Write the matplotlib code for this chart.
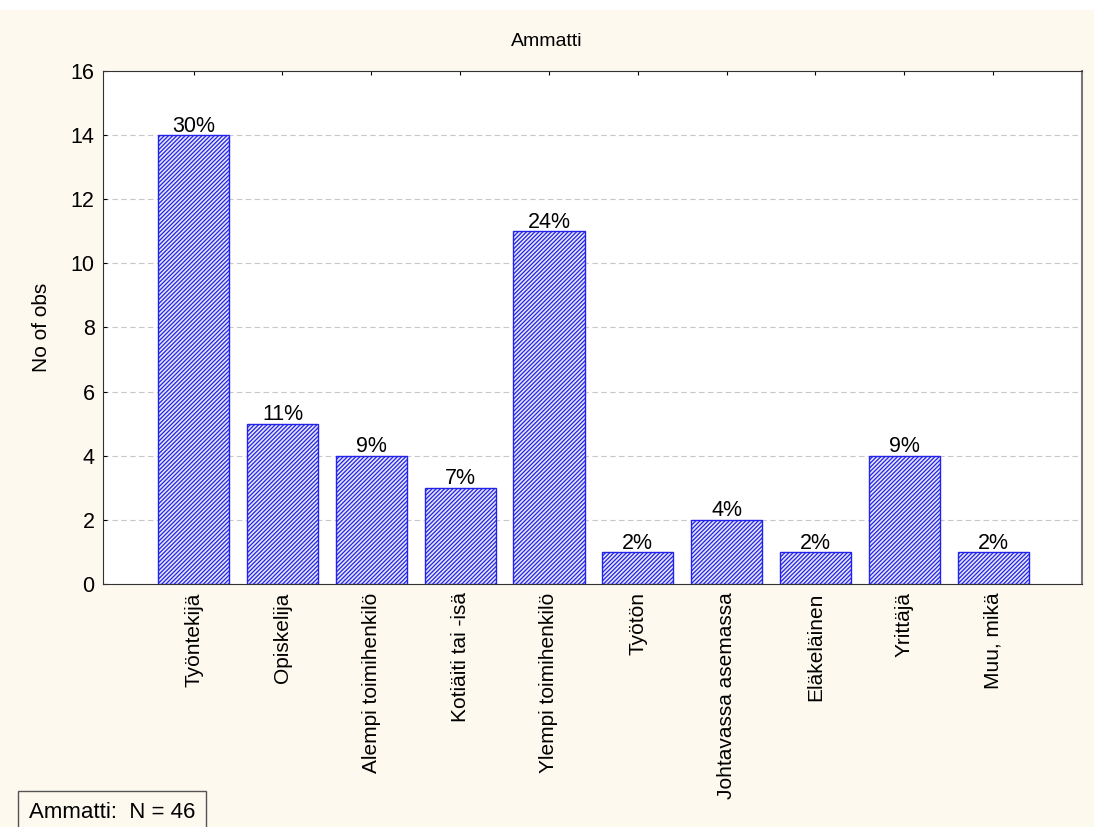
import matplotlib
matplotlib.use("Agg")
import matplotlib.pyplot as plt

plt.rcParams["font.family"] = ["Liberation Sans", "DejaVu Sans"]
plt.rcParams["hatch.color"] = "#3a3a60"
plt.rcParams["hatch.linewidth"] = 0.9

# Data
categories = ["Työntekijä", "Opiskelija", "Alempi toimihenkilö", "Kotiäiti tai -isä",
              "Ylempi toimihenkilö", "Työtön", "Johtavassa asemassa", "Eläkeläinen",
              "Yrittäjä", "Muu, mikä"]
counts = [14, 5, 4, 3, 11, 1, 2, 1, 4, 1]
percents = ["30%", "11%", "9%", "7%", "24%", "2%", "4%", "2%", "9%", "2%"]
n_total = 46

cream = "#fdf9ee"
fig = plt.figure(figsize=(10.94, 8.27), dpi=100)
fig.patch.set_facecolor("white")
# cream background below the thin white strip at the top
fig.patches.append(plt.Rectangle((0, 0), 1, 1 - 10 / 827, transform=fig.transFigure,
                                 facecolor=cream, edgecolor="none", zorder=-10))

ax = fig.add_axes([103 / 1094, 1 - 584 / 827, (1082 - 103) / 1094, (584 - 71) / 827])
ax.set_facecolor("white")

x = list(range(len(categories)))
bars = ax.bar(x, counts, width=0.8, color="#e6e6f2", edgecolor="#2222ee",
              linewidth=1.0, hatch="////////", zorder=3)
for xi, c, p in zip(x, counts, percents):
    ax.text(xi, c - 0.05, p, ha="center", va="bottom", fontsize=15.5, zorder=4)

ax.set_xlim(-1.02, 10.0)
ax.set_ylim(0, 16)
ax.set_yticks(range(0, 17, 2))
ax.tick_params(axis="y", labelsize=15.5, direction="in", length=3, pad=6)
ax.set_xticks(x)
ax.set_xticklabels(categories, rotation=90, fontsize=15)
ax.tick_params(axis="x", direction="in", length=3, top=True, pad=6)
ax.yaxis.grid(True, linestyle=(0, (5, 3)), color="#c8c8c8", linewidth=0.8, zorder=0)
for s in ax.spines.values():
    s.set_color("#333333")
ax.spines["right"].set_color("#777777")
ax.spines["right"].set_linewidth(1.5)

ax.set_ylabel("No of obs", fontsize=15, labelpad=14)
fig.text(547 / 1094, 1 - 41 / 827, "Ammatti", ha="center", va="center", fontsize=14)

fig.text(112 / 1094, 1 - 813 / 827, f"Ammatti:  N = {n_total}", ha="center", va="center",
         fontsize=16,
         bbox=dict(boxstyle="square,pad=0.5", facecolor=cream, edgecolor="#555555"))

fig.savefig("out.png", dpi=100, facecolor=fig.get_facecolor())
